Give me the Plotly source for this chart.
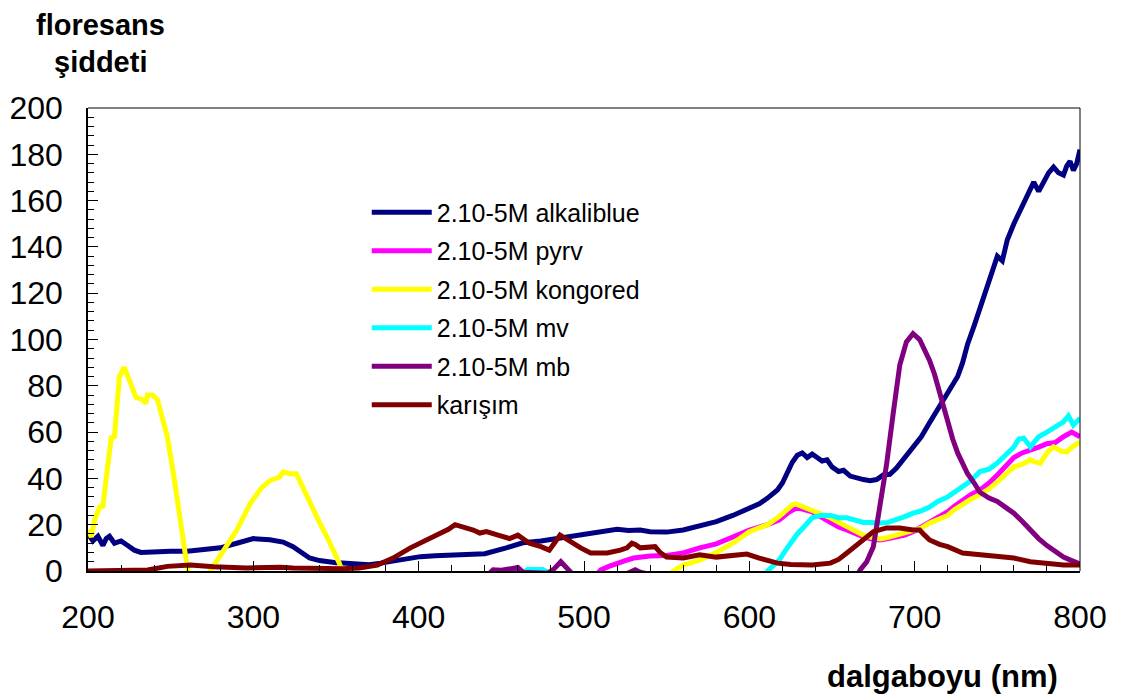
import plotly.graph_objects as go

# ---------------- data ----------------
alk_x = [200,203,206,209,211,213,216,220,224,228,232,240,250,260,270,280,290,300,310,318,324,330,334,340,344,350,354,364,370,377,384,389,395,401,410,425,440,453,463,474,484,494,504,514,520,527,534,540,550,560,570,580,590,600,606,611,617,620,623,626,629,632,635,638,641,644,647,650,654,657,661,665,669,673,677,681,685,689,694,699,704,709,714,720,726,729,732,736,741,745,750,753,756,760,764,768,772,775,778,781,784,787,790,792,794,796,798,800]
alk_y = [16,13,15,11,14,15,12,13,11,9,8,8.3,8.5,8.5,9,10,12,14,13.5,12.5,10.5,7.5,5.6,4.5,4,3.6,3.5,2.8,2.7,3.4,4.3,5.2,5.8,6.2,6.6,7,7.5,10,12.2,13,14,15,16,17,18,17.5,17.7,17,16.8,17.7,19.4,21.3,24,27,29,31.5,35,38,43,47,50,51,49,50.5,49,47.5,48,45,43,43.5,41,40,39.5,39,39.5,41.5,41.8,44.5,49,53.6,58,64,70,77,84,90,98,106,117,126,136,134,143,150,156,163,168,164,168,172,174.5,172,171,175,177,173,176,182]

pyr_x = [440,457,460,463,480,500,508,510,515,520,525,530,540,550,560,570,580,590,600,611,618,624,628,631,635,638,643,649,654,659,664,669,674,679,684,689,694,699,704,709,714,720,724,729,734,739.5,745,750,755,760,765,770,775,780,785,790,795,800]
pyr_y = [-5,-0.5,0.8,-0.5,-5,-8,-1,0.4,2,3.4,4.5,5.6,6.5,6.7,7.8,10,11.7,14.7,17.7,20,22,25.5,27,27,26,25.6,23.5,21,19,17.7,16,14.7,13.8,13.4,14,14.7,15.5,17,19,21,23,25.6,28,30.7,33,35,38,41.5,45,49,51,52,53.5,55,55.5,58,60,58]

kon_x = [200,202,204,207,209,212,214,216,219,222,225,229,233,235,236,239,242,245,248,252,256,260,263,270,274,282,290,298,305,310,316,318,322,326,330,334,340,344.5,352,356,360,540,554,560,570,580,590,600,611,618,626,628,633,638,643,649,654,659,664,669,674,679,684,689,694,699,704,709,714,720,724,729,734,739.5,745,750,755,760,765,770,773,776,780,784,788,792,796,800]
kon_y = [17.7,14.7,22,27.6,28,43.6,57.5,58,84,88,82.5,75,74,72.5,76,76,74,66,58,40.6,20.7,1.7,-6,-6,0,9,17.7,29,36,39,40.6,42.8,42,42,36,29,21,14.8,3.4,-5,-10,-10,0,2.5,4.7,8,12,17,20,23.5,28.5,29,27.5,26.3,25,23,21,19,17,15.5,14.5,13.8,14.5,15.5,16,17,18.5,20.7,22,24,26.5,29,31,33,35.5,38.5,42,45,46,48,47,46.6,51,53.6,52,51.4,54,55.7]

mv_x = [440,463,466,475,478,500,600,611,614,618,622,626,629,633,638,643,649,654,659,664,669,674,679,684,689,694,699,704,709,714,720,724,729,734,739.5,745,750,755,760,763,766,770,775,780,785,790,793,796,800]
mv_y = [-10,-0.5,0.6,0.6,-0.5,-10,-15,0,2,4.7,9,13.4,16,19,23,24,24,23,23,22,21,21,20.7,21,22,23.5,25,26,27.6,30,32,34,36,39,43,44,46.6,50,53.6,57,57.4,53.6,58,60,62,64.4,67,63,66]

mb_x = [440,445,450,455,460,463,478,482,486,490,494,520,528,531,534,560,650,660,664,667,671,675,679,683,687,691,695,699,703,706,709,712,715,718,720,723,726,729,732,736,739.5,745,750,755,760,765,770,775,780,785,790,795,800]
mb_y = [-3,0.5,0.3,1,1.5,-0.5,-1,1,4,1,-2,-3,-0.5,0.5,-0.5,-5,-20,-10,-3,0.4,4,10.5,27.7,46,68,89,99,102.5,100,96,91,85,77,70,64,57,51,46,42,38,34,31.5,30,27.5,25,21.5,17.7,14,11,8.5,6,4.5,3]

kar_x = [200,220,236,248,262,276,296,316,324,354,364,375,384.5,395,405,413,418,422,428,433,437,441,448,455,460,467,474,479,482,485.5,489,493,498,504,514,522,526,529,531,534,540,543,546,550,560,570,580,590,598.5,606,617,625,631,638,649,654,659,664,669,675,683,691,699,703,706,709,715,720,729,739.5,750,760,770,780,790,800]
kar_y = [0,0,0.4,2,2.6,1.8,1.3,1.6,1.3,1,1.3,2.6,5.6,10,13.4,16.4,18,20,19,17.7,16.4,17,15.5,14,15.5,12,10.5,9,12,15.5,14,12,10,7.8,7.8,9,10,12,11.5,10,10,10.5,8,6,5.6,7,6,6.5,7.3,5.6,3.4,2.8,2.6,2.6,3.4,5,7.8,10.5,13.4,17,18.6,18.6,17.7,17.7,15.5,13.4,11.5,10.5,7.8,7,6,5.6,4,3.4,2.6,2.6]

series = [
    ("2.10-5M alkaliblue", alk_x, alk_y, "#000080"),
    ("2.10-5M pyrv", pyr_x, pyr_y, "#FF00FF"),
    ("2.10-5M kongored", kon_x, kon_y, "#FFFF00"),
    ("2.10-5M mv", mv_x, mv_y, "#00FFFF"),
    ("2.10-5M mb", mb_x, mb_y, "#800080"),
    ("karışım", kar_x, kar_y, "#800000"),
]

FONT = "Arial, Liberation Sans, sans-serif"

fig = go.Figure()
for i, (name, xs, ys, col) in enumerate(series):
    fig.add_trace(go.Scatter(x=xs, y=ys, mode="lines", name=name,
                             legendgroup=f"g{i}",
                             line=dict(color=col, width=5)))

fig.update_layout(
    width=1122, height=697,
    margin=dict(l=80, r=50, t=100, b=134, autoexpand=False),
    paper_bgcolor="white", plot_bgcolor="white",
    font=dict(family=FONT, color="black"),
    showlegend=True,
    legend=dict(x=0.281, y=0.824, xanchor="left", yanchor="top",
                font=dict(size=25, family=FONT), bgcolor="rgba(0,0,0,0)",
                itemwidth=60, tracegroupgap=3, traceorder="grouped"),
)

fig.update_xaxes(range=[200, 800], dtick=100, tick0=200, ticks="inside", ticklen=10,
                 tickcolor="black", showgrid=False, zeroline=False, automargin=False,
                 showline=True, linecolor="black", linewidth=1.5,
                 tickfont=dict(size=32, family=FONT), ticklabelstandoff=17,
                 minor=dict(dtick=20, ticks="inside", ticklen=6, tickcolor="black"))
fig.update_yaxes(range=[0, 200], dtick=20, ticks="inside", ticklen=10,
                 tickcolor="black", showgrid=False, zeroline=False, automargin=False,
                 showline=True, linecolor="black", linewidth=1.5, mirror=False,
                 tickfont=dict(size=32, family=FONT), ticklabelstandoff=17,
                 minor=dict(dtick=4, ticks="inside", ticklen=6, tickcolor="black"))

# frame: gray top, black right
fig.add_shape(type="line", xref="paper", yref="paper", x0=0, x1=1, y0=1, y1=1,
              line=dict(color="#808080", width=2))
fig.add_shape(type="line", xref="paper", yref="paper", x0=1, x1=1, y0=0, y1=1,
              line=dict(color="black", width=1))

# titles
fig.add_annotation(text="<b>floresans</b>", xref="paper", yref="paper",
                   x=(100-88)/992, y=(571-25)/463, xanchor="center", yanchor="middle",
                   showarrow=False, font=dict(size=29, family=FONT))
fig.add_annotation(text="<b>şiddeti</b>", xref="paper", yref="paper",
                   x=(100-88)/992, y=(571-62)/463, xanchor="center", yanchor="middle",
                   showarrow=False, font=dict(size=29, family=FONT))
fig.add_annotation(text="<b>dalgaboyu (nm)</b>", xref="paper", yref="paper",
                   x=(942-88)/992, y=(571-676)/463, xanchor="center", yanchor="middle",
                   showarrow=False, font=dict(size=31, family=FONT))

fig.write_html("out.html")
